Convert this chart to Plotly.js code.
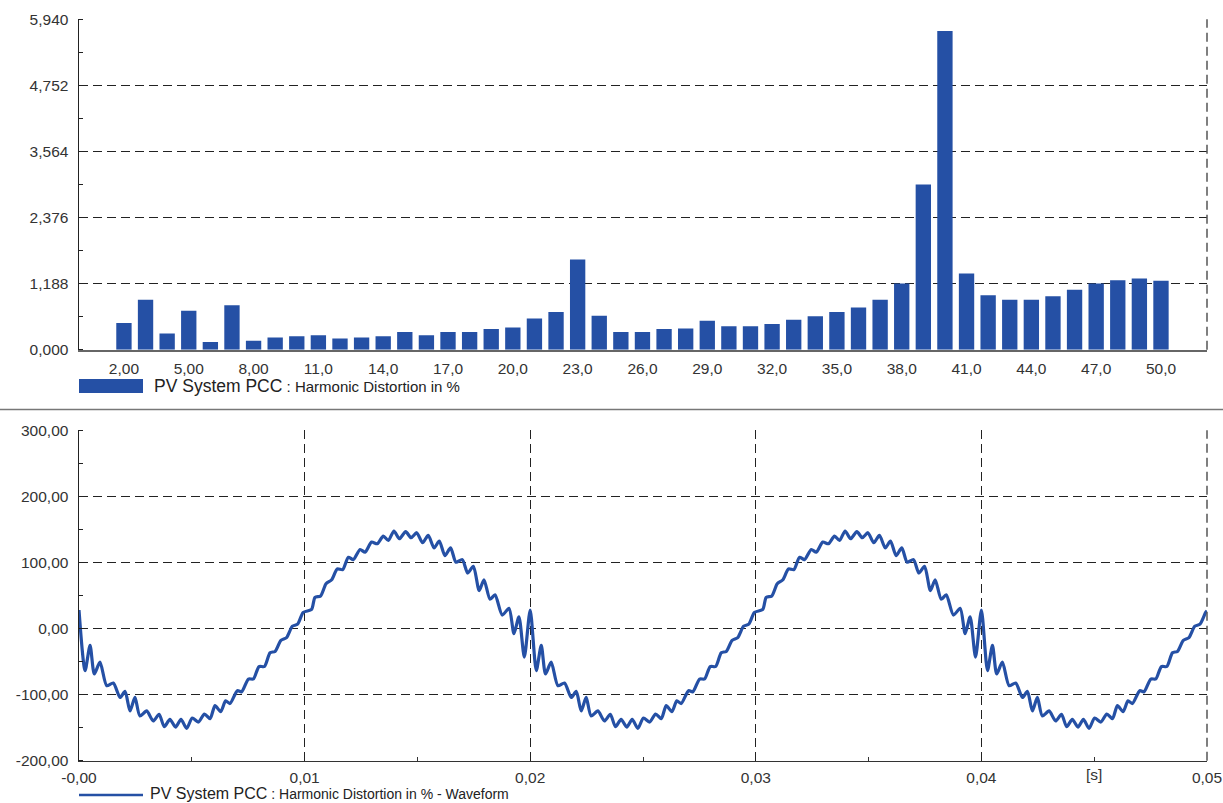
<!DOCTYPE html>
<html>
<head>
<meta charset="utf-8">
<script src="https://cdn.plot.ly/plotly-3.0.1.min.js"></script>
<style>html,body{margin:0;padding:0;background:#fff;}#chart{width:1223px;height:803px;}</style>
</head>
<body>
<div id="chart"></div>
<script>
// ---- Harmonic distortion spectrum (top chart) ----
const harmonicOrders = [2,3,4,5,6,7,8,9,10,11,12,13,14,15,16,17,18,19,20,21,22,23,24,25,26,
  27,28,29,30,31,32,33,34,35,36,37,38,39,40,41,42,43,44,45,46,47,48,49,50];
const harmonicDistortion = [0.48,0.90,0.29,0.70,0.14,0.80,0.16,0.22,0.24,0.26,0.20,0.22,0.24,0.32,0.26,
  0.32,0.32,0.37,0.40,0.56,0.68,1.62,0.61,0.32,0.32,0.37,0.38,0.52,0.42,0.42,0.46,0.54,0.60,
  0.68,0.76,0.90,1.19,2.97,5.73,1.37,0.98,0.90,0.90,0.96,1.08,1.19,1.25,1.28,1.24];
const spectrumXTickVals = [2,5,8,11,14,17,20,23,26,29,32,35,38,41,44,47,50];
const spectrumXTickText = ["2,00","5,00","8,00","11,0","14,0","17,0","20,0","23,0","26,0","29,0","32,0","35,0","38,0","41,0","44,0","47,0","50,0"];
const spectrumYTickVals = [0,1.188,2.376,3.564,4.752,5.940];
const spectrumYTickText = ["0,000","1,188","2,376","3,564","4,752","5,940"];

// ---- Waveform (bottom chart) ----
const waveT = [
  0.00000,0.00027,0.00049,0.00068,0.00093,0.00123,0.00152,0.00182,0.00204,0.00226,0.00248,0.00270,0.00300,0.00329,0.00355,0.00378,0.00403,0.00428,0.00452,0.00477,
  0.00502,0.00529,0.00556,0.00581,0.00603,0.00628,0.00650,0.00669,0.00702,0.00721,0.00751,0.00773,0.00798,0.00822,0.00847,0.00869,0.00895,0.00920,0.00946,0.00969,
  0.00994,0.01031,0.01046,0.01071,0.01095,0.01120,0.01145,0.01169,0.01194,0.01216,0.01246,0.01268,0.01297,0.01322,0.01349,0.01371,0.01396,0.01420,0.01448,0.01472,
  0.01497,0.01523,0.01548,0.01574,0.01597,0.01622,0.01647,0.01671,0.01699,0.01723,0.01748,0.01774,0.01795,0.01822,0.01844,0.01876,0.01906,0.01928,0.01950,0.01974,
  0.02000,0.02027,0.02049,0.02068,0.02093,0.02123,0.02152,0.02182,0.02204,0.02226,0.02248,0.02270,0.02300,0.02329,0.02355,0.02378,0.02403,0.02428,0.02452,0.02477,
  0.02502,0.02529,0.02556,0.02581,0.02603,0.02628,0.02650,0.02669,0.02702,0.02721,0.02751,0.02773,0.02798,0.02822,0.02847,0.02869,0.02895,0.02920,0.02946,0.02969,
  0.02994,0.03031,0.03046,0.03071,0.03095,0.03120,0.03145,0.03169,0.03194,0.03216,0.03246,0.03268,0.03297,0.03322,0.03349,0.03371,0.03396,0.03420,0.03448,0.03472,
  0.03497,0.03523,0.03548,0.03574,0.03597,0.03622,0.03647,0.03671,0.03699,0.03723,0.03748,0.03774,0.03795,0.03822,0.03844,0.03876,0.03906,0.03928,0.03950,0.03974,
  0.04000,0.04027,0.04049,0.04068,0.04093,0.04123,0.04152,0.04182,0.04204,0.04226,0.04248,0.04270,0.04300,0.04329,0.04355,0.04378,0.04403,0.04428,0.04452,0.04477,
  0.04502,0.04529,0.04556,0.04581,0.04603,0.04628,0.04650,0.04669,0.04702,0.04721,0.04751,0.04773,0.04798,0.04822,0.04847,0.04869,0.04895,0.04920,0.04946,0.04969,
  0.04994,0.05000
];
const waveV = [
  28.0,-63.6,-25.4,-68.7,-50.9,-86.5,-82.4,-104.3,-95.1,-124.7,-104.3,-132.3,-124.7,-139.9,-129.8,-148.6,-137.4,-149.1,-137.4,-151.2,
  -135.4,-141.5,-129.3,-136.4,-116.6,-125.7,-109.4,-113.5,-94.1,-95.7,-76.4,-76.4,-57.5,-57.5,-36.6,-34.6,-17.8,-13.7,3.6,6.6,
  24.4,29.0,47.3,49.4,67.7,73.8,90.2,89.1,107.9,104.3,119.6,115.5,130.8,128.3,139.9,133.3,147.6,135.9,146.6,137.4,
  145.0,129.8,141.0,122.1,132.3,110.4,122.1,100.3,104.3,84.0,94.1,57.5,73.8,44.3,50.9,20.4,30.5,-7.6,17.8,-43.3,
  28.0,-63.6,-25.4,-68.7,-50.9,-86.5,-82.4,-104.3,-95.1,-124.7,-104.3,-132.3,-124.7,-139.9,-129.8,-148.6,-137.4,-149.1,-137.4,-151.2,
  -135.4,-141.5,-129.3,-136.4,-116.6,-125.7,-109.4,-113.5,-94.1,-95.7,-76.4,-76.4,-57.5,-57.5,-36.6,-34.6,-17.8,-13.7,3.6,6.6,
  24.4,29.0,47.3,49.4,67.7,73.8,90.2,89.1,107.9,104.3,119.6,115.5,130.8,128.3,139.9,133.3,147.6,135.9,146.6,137.4,
  145.0,129.8,141.0,122.1,132.3,110.4,122.1,100.3,104.3,84.0,94.1,57.5,73.8,44.3,50.9,20.4,30.5,-7.6,17.8,-43.3,
  28.0,-63.6,-25.4,-68.7,-50.9,-86.5,-82.4,-104.3,-95.1,-124.7,-104.3,-132.3,-124.7,-139.9,-129.8,-148.6,-137.4,-149.1,-137.4,-151.2,
  -135.4,-141.5,-129.3,-136.4,-116.6,-125.7,-109.4,-113.5,-94.1,-95.7,-76.4,-76.4,-57.5,-57.5,-36.6,-34.6,-17.8,-13.7,3.6,6.6,
  24.4,27.0
];
const waveXTickVals = [0,0.01,0.02,0.03,0.04,0.05];
const waveXTickText = ["-0,00","0,01","0,02","0,03","0,04","0,05"];
const waveXUnitLabel = "[s]";
const waveYTickVals = [-200,-100,0,100,200,300];
const waveYTickText = ["-200,00","-100,00","0,00","100,00","200,00","300,00"];

const barLegendName = "PV System PCC<span style=\"font-size:15px\"> : Harmonic Distortion in %</span>";
const waveLegendName = "PV System PCC<span style=\"font-size:14px\"> : Harmonic Distortion in % - Waveform</span>";

// ---- styling ----
const BLUE = "rgb(37,80,165)";
const W = 1223, H = 803;
const px = v => v / W;
const py = v => 1 - v / H;
const gridStyle = {showgrid: true, gridcolor: "#222", griddash: "9px,5px", gridwidth: 1};
const xDom = [px(79), px(1207)];

const traces = [
  {type: "bar", x: harmonicOrders, y: harmonicDistortion, xaxis: "x", yaxis: "y",
   width: 0.71, marker: {color: BLUE, line: {width: 0}}, name: "bars", hoverinfo: "skip"},
  {type: "scatter", mode: "lines", x: waveT, y: waveV, xaxis: "x2", yaxis: "y2",
   line: {color: BLUE, width: 3.2, shape: "spline", smoothing: 0.7}, name: "wave", hoverinfo: "skip"}
];

const layout = {
  width: W, height: H,
  margin: {l: 0, r: 0, t: 0, b: 0},
  paper_bgcolor: "#fff", plot_bgcolor: "#fff",
  showlegend: false,
  font: {family: "Liberation Sans, Arial, sans-serif", size: 15.5, color: "#333"},
  xaxis: {domain: xDom, anchor: "y", range: [-0.08, 52.13], tickmode: "array",
    tickvals: spectrumXTickVals, ticktext: spectrumXTickText, showgrid: false, zeroline: false,
    showline: true, linecolor: "#666", linewidth: 2, ticks: "", ticklabelstandoff: 4, fixedrange: true},
  yaxis: Object.assign({domain: [py(349.7), py(19.3)], anchor: "x", range: [0, 5.94], tickmode: "array",
    tickvals: spectrumYTickVals, ticktext: spectrumYTickText, zeroline: false,
    showline: true, linecolor: "#222", linewidth: 1.5, ticks: "", ticklabelstandoff: 6, fixedrange: true,
    minor: {tick0: 0, dtick: 0.594, ticks: "inside", ticklen: 4, tickcolor: "#222", tickwidth: 1, showgrid: false}}, gridStyle),
  xaxis2: Object.assign({domain: xDom, anchor: "y2", range: [0, 0.05], tickmode: "array",
    tickvals: waveXTickVals, ticktext: waveXTickText, zeroline: false,
    showline: true, linecolor: "#333", linewidth: 1.5, ticks: "", ticklabelstandoff: 2, fixedrange: true,
    minor: {tick0: 0.005, dtick: 0.01, ticks: "inside", ticklen: 4, tickcolor: "#333", tickwidth: 1, showgrid: false}}, gridStyle),
  yaxis2: Object.assign({domain: [py(760.7), py(430.3)], anchor: "x2", range: [-200, 300], tickmode: "array",
    tickvals: waveYTickVals, ticktext: waveYTickText, zeroline: false,
    showline: true, linecolor: "#222", linewidth: 1.5, ticks: "", ticklabelstandoff: 6, fixedrange: true,
    minor: {tick0: 0, dtick: 50, ticks: "inside", ticklen: 4, tickcolor: "#222", tickwidth: 1, showgrid: false}}, gridStyle),
  shapes: [
    // right dashed borders
    {type: "line", xref: "x domain", yref: "y domain", x0: 1, x1: 1, y0: 0, y1: 1,
     line: {color: "#555", width: 1.5, dash: "9px,5px"}},
    {type: "line", xref: "x2 domain", yref: "y2 domain", x0: 1, x1: 1, y0: 0, y1: 1,
     line: {color: "#555", width: 1.5, dash: "9px,5px"}},
    // separator between the two panels
    {type: "line", xref: "paper", yref: "paper", x0: 0, x1: 1, y0: py(409.5), y1: py(409.5),
     line: {color: "#777", width: 1.5}},
    // legend symbols
    {type: "rect", xref: "paper", yref: "paper", x0: px(79), x1: px(143), y0: py(393), y1: py(379),
     fillcolor: BLUE, line: {width: 0}},
    {type: "line", xref: "paper", yref: "paper", x0: px(79), x1: px(143), y0: py(795), y1: py(795),
     line: {color: BLUE, width: 2.5}}
  ],
  annotations: [
    {xref: "paper", yref: "paper", x: px(152), y: py(386), xanchor: "left", yanchor: "middle",
     text: barLegendName, showarrow: false, font: {size: 17.5, color: "#222"}},
    {xref: "paper", yref: "paper", x: px(149), y: 0, xanchor: "left", yanchor: "bottom",
     text: waveLegendName, showarrow: false, borderpad: 0, font: {size: 16, color: "#222"}},
    {xref: "x2", yref: "paper", x: 0.045, y: py(774), xanchor: "center", yanchor: "middle",
     text: waveXUnitLabel, showarrow: false, font: {size: 15.5, color: "#333"}}
  ]
};

Plotly.newPlot("chart", traces, layout, {staticPlot: true, displayModeBar: false});
</script>
</body>
</html>
